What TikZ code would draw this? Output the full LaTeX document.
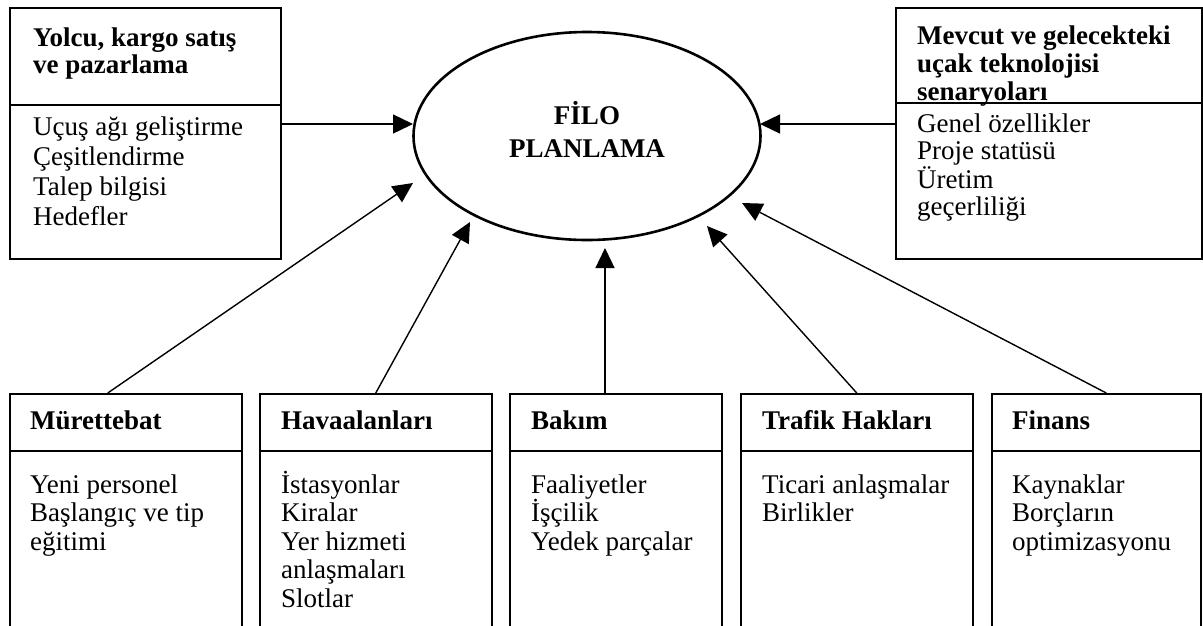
\documentclass[tikz,border=0pt]{standalone}
\usepackage{fontspec}
\setmainfont{Liberation Serif}
\usetikzlibrary{shapes.geometric,arrows.meta,calc}
\begin{document}
\begin{tikzpicture}[x=1pt,y=-1pt,
  panel/.style={draw,line width=1.5pt,rectangle,inner sep=0pt,anchor=north west},
  % multi-line text nodes: the base anchor sits on the baseline of the last line
  hd/.style={font=\fontsize{27}{#1}\selectfont\bfseries,anchor=base west,inner sep=0pt,align=left},
  hd/.default=27,
  bd/.style={font=\fontsize{27}{#1}\selectfont,anchor=base west,inner sep=0pt,align=left},
  bd/.default=28.5,
  feed/.style={line width=1.4pt,-{Triangle[length=20pt,width=19pt]}}
]
\useasboundingbox (0,0) rectangle (1203,625);

% central ellipse
\node[ellipse,draw,line width=2.6pt,minimum width=347pt,minimum height=208pt,inner sep=0pt] (fp) at (587,136) {};
\node[font=\fontsize{27}{33}\selectfont\bfseries,align=center,anchor=base,inner sep=0pt] (fpt) at (587,157) {FİLO\\PLANLAMA};

% upper boxes
\node[panel,minimum width=271pt,minimum height=251pt] (tl) at (9,7) {};
\draw[line width=1.5pt] ($(tl.north west)+(0,98)$) -- ($(tl.north east)+(0,98)$);
\node[hd] (tlh) at (33,73) {Yolcu, kargo satış\\ve pazarlama};
\node[bd=30] (tlb) at (33,225) {Uçuş ağı geliştirme\\Çeşitlendirme\\Talep bilgisi\\Hedefler};

\node[panel,minimum width=306pt,minimum height=251pt] (tr) at (895,7) {};
\draw[line width=1.5pt] ($(tr.north west)+(0,96)$) -- ($(tr.north east)+(0,96)$);
\node[hd=28] (trh) at (917,100) {Mevcut ve gelecekteki\\uçak teknolojisi\\senaryoları};
\node[bd=27] (trb) at (917,215) {Genel özellikler\\Proje statüsü\\Üretim\\geçerliliği};

% lower boxes (running past the bottom edge)
\node[panel,minimum width=232pt,minimum height=260pt] (b1) at (9,393) {};
\node[panel,minimum width=232pt,minimum height=260pt] (b2) at (259,393) {};
\node[panel,minimum width=212pt,minimum height=260pt] (b3) at (509,393) {};
\node[panel,minimum width=232pt,minimum height=260pt] (b4) at (740,393) {};
\node[panel,minimum width=209pt,minimum height=260pt] (b5) at (991,393) {};
\foreach \b in {b1,b2,b3,b4,b5}
  \draw[line width=1.5pt] ($(\b.north west)+(0,58)$) -- ($(\b.north east)+(0,58)$);

\node[hd] (b1h) at (30,429) {Mürettebat};
\node[bd] (b1b) at (30,550) {Yeni personel\\Başlangıç ve tip\\eğitimi};
\node[hd] (b2h) at (281,429) {Havaalanları};
\node[bd] (b2b) at (281,607) {İstasyonlar\\Kiralar\\Yer hizmeti\\anlaşmaları\\Slotlar};
\node[hd] (b3h) at (531,429) {Bakım};
\node[bd] (b3b) at (531,550) {Faaliyetler\\İşçilik\\Yedek parçalar};
\node[hd] (b4h) at (762,429) {Trafik Hakları};
\node[bd] (b4b) at (762,521.5) {Ticari anlaşmalar\\Birlikler};
\node[hd] (b5h) at (1012,429) {Finans};
\node[bd] (b5b) at (1012,550) {Kaynaklar\\Borçların\\optimizasyonu};

% arrow tips around the ellipse
\coordinate (t1) at (413,124);
\coordinate (t2) at (760,124);
\coordinate (t3) at (413,183);
\coordinate (t4) at (470,222);
\coordinate (t5) at (605,248);
\coordinate (t6) at (707,226);
\coordinate (t7) at (742,203);

\draw[feed] (tl.east |- t1) -- (t1);
\draw[feed] (tr.west |- t2) -- (t2);
\draw[feed] ($(b1.north)+(-18,0)$) -- (t3);
\draw[feed] (b2.north) -- (t4);
\draw[feed] (t5 |- b3.north) -- (t5);
\draw[feed] (b4.north) -- (t6);
\draw[feed] ($(b5.north)+(10,0)$) -- (t7);
\end{tikzpicture}
\end{document}
